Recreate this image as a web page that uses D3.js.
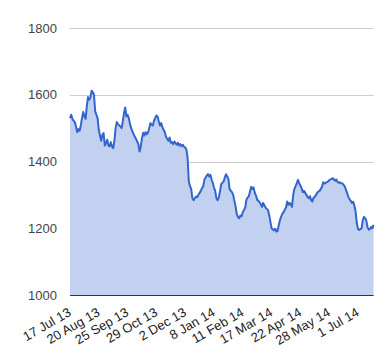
<!DOCTYPE html>
<html>
<head>
<meta charset="utf-8">
<script src="https://cdn.jsdelivr.net/npm/d3@7/dist/d3.min.js"></script>
<style>
  html, body { margin: 0; padding: 0; background: #fff; }
  svg { display: block; }
</style>
</head>
<body>
<svg id="chart" width="380" height="360"></svg>
<script>
// ---- data ----
const values = [
  1530,1540,1528,1522,1518,1505,1488,1497,1492,1508,
  1530,1548,1535,1528,1565,1593,1585,1592,1612,1608,
  1600,1550,1540,1530,1495,1478,1462,1480,1485,1448,
  1455,1465,1448,1445,1458,1445,1440,1462,1500,1518,
  1512,1508,1505,1500,1520,1545,1562,1535,1540,1530,
  1512,1500,1490,1482,1474,1468,1460,1452,1430,1445,
  1470,1486,1478,1488,1482,1486,1500,1515,1510,1508,
  1522,1530,1538,1535,1520,1508,1515,1503,1495,1488,
  1474,1468,1462,1472,1456,1458,1452,1460,1455,1450,
  1456,1448,1452,1446,1450,1444,1442,1436,1410,1340,
  1326,1318,1290,1284,1290,1295,1293,1300,1306,1312,
  1320,1326,1345,1352,1358,1362,1355,1360,1346,1336,
  1322,1312,1290,1284,1292,1310,1332,1336,1340,1352,
  1362,1355,1348,1318,1312,1308,1300,1282,1265,1242,
  1233,1230,1238,1236,1248,1255,1262,1285,1292,1296,
  1310,1324,1318,1322,1306,1298,1285,1282,1278,1272,
  1264,1276,1268,1262,1258,1255,1240,1220,1200,1196,
  1194,1198,1190,1192,1210,1225,1235,1244,1248,1256,
  1262,1280,1270,1276,1272,1264,1300,1318,1326,1335,
  1345,1335,1328,1320,1308,1312,1306,1300,1294,1290,
  1296,1284,1280,1292,1294,1300,1306,1310,1312,1318,
  1324,1338,1334,1336,1338,1340,1344,1346,1348,1350,
  1346,1342,1346,1338,1336,1338,1335,1334,1330,1325,
  1315,1305,1294,1287,1282,1276,1279,1268,1250,1215,
  1198,1195,1197,1200,1225,1234,1230,1222,1202,1196,
  1198,1204,1200,1210
];
const xLabels = ["17 Jul 13","20 Aug 13","25 Sep 13","29 Oct 13","2 Dec 13","8 Jan 14","11 Feb 14","17 Mar 14","22 Apr 14","28 May 14","1 Jul 14"];
const labelEvery = 24;
const yTicks = [1000,1200,1400,1600,1800];

// ---- layout ----
const svg = d3.select("#chart");
const plotLeft = 70, plotRight = 373.6, plotTop = 28, plotBottom = 295;

const x = d3.scaleLinear().domain([0, values.length - 1]).range([plotLeft, plotRight]);
const y = d3.scaleLinear().domain([1000, 1800]).range([plotBottom, plotTop]);

// gridlines
svg.append("g").selectAll("line")
  .data(yTicks.filter(t => t !== 1000))
  .join("line")
  .attr("x1", plotLeft).attr("x2", plotRight)
  .attr("y1", d => Math.round(y(d)) + 0.5).attr("y2", d => Math.round(y(d)) + 0.5)
  .attr("stroke", "#cccccc").attr("stroke-width", 1);

// y labels
svg.append("g").selectAll("text")
  .data(yTicks)
  .join("text")
  .attr("x", plotLeft - 13)
  .attr("y", d => y(d))
  .attr("dy", "0.35em")
  .attr("text-anchor", "end")
  .attr("font-family", "Arial, 'Liberation Sans', sans-serif")
  .attr("font-size", 13)
  .attr("fill", "#444444")
  .text(d => d);

// area
const area = d3.area()
  .x((d, i) => x(i))
  .y0(y(1000))
  .y1(d => y(d));
svg.append("path")
  .datum(values)
  .attr("d", area)
  .attr("fill", "#c3d1f0");

// line
const line = d3.line()
  .x((d, i) => x(i))
  .y(d => y(d));
svg.append("path")
  .datum(values)
  .attr("d", line)
  .attr("fill", "none")
  .attr("stroke", "#3366cc")
  .attr("stroke-width", 2)
  .attr("stroke-linejoin", "round");

// baseline
svg.append("line")
  .attr("x1", plotLeft).attr("x2", plotRight)
  .attr("y1", Math.round(y(1000)) + 0.5).attr("y2", Math.round(y(1000)) + 0.5)
  .attr("stroke", "#333333").attr("stroke-width", 1);

// x labels
svg.append("g").selectAll("text")
  .data(xLabels)
  .join("text")
  .attr("transform", (d, i) => `translate(${x(i * labelEvery) + 2},${plotBottom + 20}) rotate(-30)`)
  .attr("text-anchor", "end")
  .attr("font-family", "Arial, 'Liberation Sans', sans-serif")
  .attr("font-size", 13)
  .attr("fill", "#222222")
  .text(d => d);
</script>
</body>
</html>
